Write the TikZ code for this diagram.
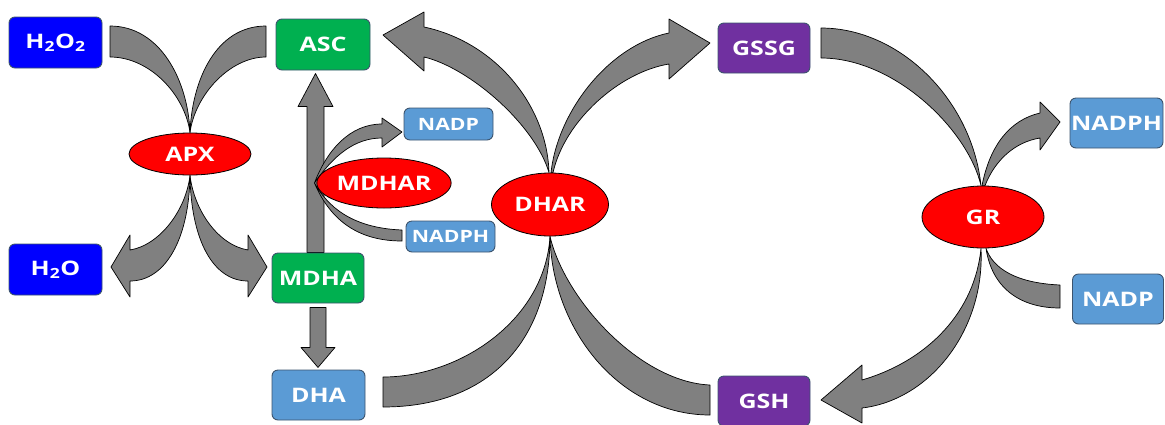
\documentclass[tikz,border=0pt]{standalone}
\usepackage{fontspec}
\setmainfont{Open Sans}[FakeStretch=1.25]
\usetikzlibrary{shapes.geometric,backgrounds,calc}

\definecolor{perblue}{RGB}{0,0,255}
\definecolor{ascgreen}{RGB}{0,176,80}
\definecolor{nadblue}{RGB}{91,155,213}
\definecolor{gspurple}{RGB}{112,48,160}
\definecolor{boxline}{RGB}{60,84,110}

\tikzset{
  molbox/.style={draw=boxline, line width=0.9pt, rounded corners=6pt, text=white,
    font=\fontsize{20}{24}\selectfont\bfseries, inner sep=0pt,
    minimum width=93pt, minimum height=50pt},
  smallbox/.style={molbox, minimum width=89pt, minimum height=32pt,
    font=\fontsize{17}{20}\selectfont\bfseries},
  enzyme/.style={ellipse, draw=black, line width=0.8pt, fill=red, text=white,
    font=\fontsize{20}{24}\selectfont\bfseries, inner sep=0pt},
  band/.style={fill=gray, draw=black, line width=0.7pt, line join=round}
}

\begin{document}
\begin{tikzpicture}[x=1pt,y=-1pt]
  \useasboundingbox (0,0) rectangle (1165,424);

  % substrates and products
  \node[molbox, fill=perblue, minimum height=51pt] (h2o2) at (55.5,42.5) {H\textsubscript{2}O\textsubscript{2}};
  \node[molbox, fill=ascgreen, minimum width=94pt, minimum height=51pt] (asc) at (323,44.5) {ASC};
  \node[molbox, fill=perblue, minimum height=51pt] (h2o) at (55.5,269.5) {H\textsubscript{2}O};
  \node[molbox, fill=ascgreen, minimum width=92pt] (mdha) at (318,278) {MDHA};
  \node[molbox, fill=nadblue] (dha) at (318.5,395) {DHA};
  \node[smallbox, fill=nadblue] (nadpl) at (448.5,124) {NADP};
  \node[smallbox, fill=nadblue, minimum height=31pt] (nadphl) at (450.5,236.5) {NADPH};
  \node[molbox, fill=gspurple, minimum width=92pt] (gssg) at (764,48) {GSSG};
  \node[molbox, fill=gspurple, minimum width=92pt] (gsh) at (764,401) {GSH};
  \node[molbox, fill=nadblue] (nadphr) at (1116.5,123) {NADPH};
  \node[molbox, fill=nadblue, minimum width=91pt] (nadpr) at (1118,299) {NADP};

  % enzymes
  \node[enzyme, minimum width=122pt, minimum height=42pt] (apx) at (190,154) {APX};
  \node[enzyme, minimum width=114pt, minimum height=50pt] (mdhar) at (384,183) {MDHAR};
  \node[enzyme, minimum width=117pt, minimum height=63pt] (dhar) at (550,204.5) {DHAR};
  \node[enzyme, minimum width=122pt, minimum height=62pt] (gr) at (983,217) {GR};

  \begin{scope}[on background layer]
    % APX
    \draw[band] (110,26) .. controls (160,26) and (188,80) .. (apx.north)
      .. controls (185,95) and (150,57) .. (110,57) -- cycle;
    \draw[band] (266,26) .. controls (216,26) and (192,80) .. (apx.north)
      .. controls (195,95) and (230,57) .. (266,57) -- cycle;
    \draw[band] (apx.south) .. controls (189,240) and (165,281) .. (130,281)
      -- (130,297) -- (111,267) -- (130,235) -- (130,250)
      .. controls (160,245) and (186,210) .. (apx.south) -- cycle;
    \draw[band] (apx.south) .. controls (191,240) and (213,281) .. (248,281)
      -- (248,297) -- (267,267) -- (248,235) -- (248,250)
      .. controls (218,245) and (194,210) .. (apx.south) -- cycle;

    % MDHA up to ASC, down to DHA
    \draw[band] ($(mdha.north)+(-11,0)$) -- ++(0,-146) -- ++(-9,0) -- ++(17.5,-33)
      -- ++(17.5,33) -- ++(-9,0) -- ++(0,146) -- cycle;
    \draw[band] ($(mdha.south)+(-8,4)$) -- ++(0,40) -- ++(-9,0) -- ++(17,20)
      -- ++(17,-20) -- ++(-9,0) -- ++(0,-40) -- cycle;

    % MDHAR
    \draw[band] ([xshift=-2pt]mdhar.west) .. controls (327,150) and (350,124) .. (382,124)
      -- (382,118) -- (402,132) -- (382,147) -- (382,138)
      .. controls (355,138) and (334,155) .. ([xshift=-2pt]mdhar.west) -- cycle;
    \draw[band] (402,230) .. controls (350,228) and (327,205) .. ([xshift=-2pt]mdhar.west)
      .. controls (331,222) and (360,241) .. (402,241) -- cycle;

    % DHAR
    \draw[band] ([xshift=-1pt]dhar.north) .. controls (535,125) and (470,68) .. (424,57)
      -- (424,71) -- (383,35) -- (424,12) -- (424,27)
      .. controls (495,42) and (547,105) .. ([xshift=-1pt]dhar.north) -- cycle;
    \draw[band] ([xshift=1pt]dhar.north) .. controls (558,110) and (610,45) .. (669,33)
      -- (669,19) -- (710,43) -- (669,79) -- (669,64)
      .. controls (620,72) and (565,120) .. ([xshift=3pt]dhar.north) -- cycle;
    \draw[band] (383,377) .. controls (460,377) and (545,320) .. (dhar.south)
      .. controls (550,340) and (490,407) .. (383,407) -- cycle;
    \draw[band] (710,385) .. controls (640,382) and (565,300) .. (dhar.south)
      .. controls (552,330) and (620,415) .. (710,415) -- cycle;

    % GR
    \draw[band] (821,28) .. controls (900,28) and (972,100) .. ([xshift=-2pt]gr.north)
      .. controls (968,130) and (895,58) .. (821,58) -- cycle;
    \draw[band] ([xshift=-1pt]gr.north) .. controls (990,145) and (1010,120) .. (1040,113)
      -- (1040,102) -- (1060,122) -- (1040,150) -- (1040,138)
      .. controls (1015,142) and (995,160) .. ([xshift=2pt]gr.north) -- cycle;
    \draw[band] (862,380) .. controls (930,360) and (975,310) .. ([xshift=-2pt]gr.south)
      .. controls (985,330) and (930,400) .. (862,408)
      -- (862,423) -- (821,400) -- (862,365) -- cycle;
    \draw[band] (1060,285) .. controls (1015,283) and (993,268) .. ([xshift=3pt]gr.south)
      .. controls (992,288) and (1020,308) .. (1060,308) -- cycle;
  \end{scope}
\end{tikzpicture}
\end{document}
